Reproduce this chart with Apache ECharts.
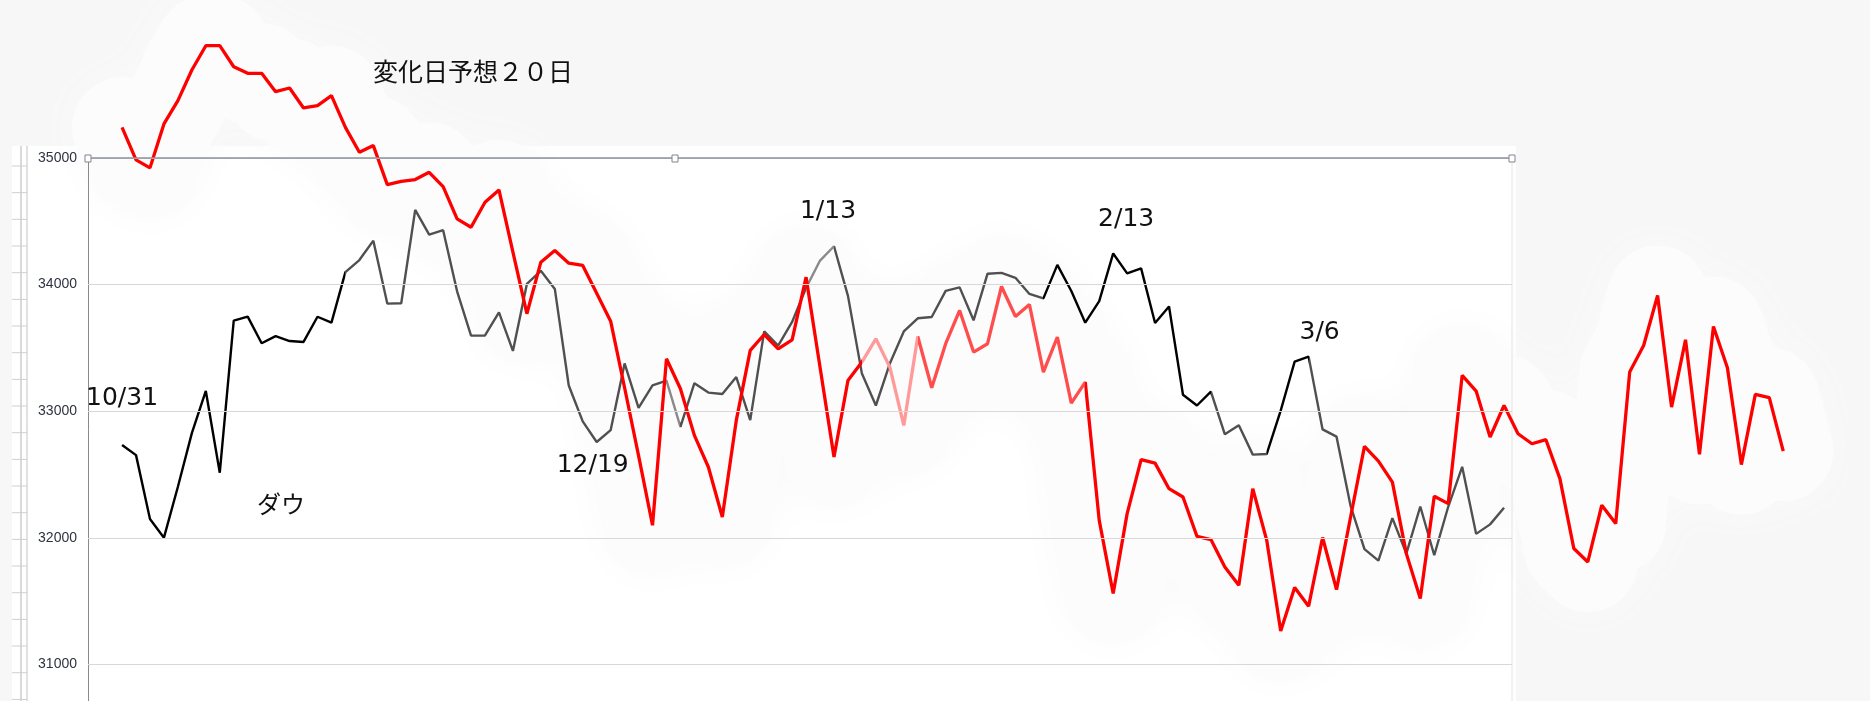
<!DOCTYPE html>
<html>
<head>
<meta charset="utf-8">
<title>ダウ 変化日予想</title>
<script src="https://cdn.jsdelivr.net/npm/echarts@6/dist/echarts.min.js"></script>
<style>
    html,body{margin:0;padding:0;background:#f7f7f7;}
    #chart{width:1870px;height:701px;}
</style>
</head>
<body>
<div id="chart"></div>
<script>
// 日付（ダウ100日 + 予想20日）
var dates = ['10/31',
    '11/1','11/2','11/3','11/4','11/7','11/8','11/9','11/10','11/11','11/14','11/15','11/16','11/17','11/18','11/21','11/22','11/23','11/25','11/28','11/29','11/30',
    '12/1','12/2','12/5','12/6','12/7','12/8','12/9','12/12','12/13','12/14','12/15','12/16','12/19','12/20','12/21','12/22','12/23','12/27','12/28','12/29','12/30',
    '1/3','1/4','1/5','1/6','1/9','1/10','1/11','1/12','1/13','1/17','1/18','1/19','1/20','1/23','1/24','1/25','1/26','1/27','1/30','1/31',
    '2/1','2/2','2/3','2/6','2/7','2/8','2/9','2/10','2/13','2/14','2/15','2/16','2/17','2/21','2/22','2/23','2/24','2/27','2/28',
    '3/1','3/2','3/3','3/6','3/7','3/8','3/9','3/10','3/13','3/14','3/15','3/16','3/17','3/20','3/21','3/22','3/23','3/24',
    '3/27','3/28','3/29','3/30','3/31','4/3','4/4','4/5','4/6','4/10','4/11','4/12','4/13','4/14','4/17','4/18','4/19','4/20','4/21','4/24'];

// ダウ終値
var dowValues = [32733,
    32653,32148,32001,32403,32827,33160,32514,33715,33747,33537,33593,33554,33547,33746,33700,34098,34194,34347,33850,33853,34590,
    34395,34430,33947,33597,33598,33781,33476,34005,34109,33966,33203,32920,32757,32850,33377,33027,33204,33242,32876,33221,33147,
    33136,33270,32930,33631,33518,33705,33974,34190,34303,33911,33297,33045,33376,33630,33734,33744,33950,33978,33718,34086,
    34093,34054,33926,33891,34156,33949,33699,33869,34246,34089,34128,33697,33827,33130,33045,33154,32817,32889,32657,
    32662,33004,33391,33431,32856,32799,32255,31910,31820,32155,31875,32247,31862,32245,32561,32031,32106,32238];

// 変化日予想２０日（赤線）
var forecastValues = [35242,34985,34922,35269,35453,35695,35887,35887,35721,35669,
    35669,35524,35553,35395,35414,35493,35242,35045,35098,34790,
    34816,34830,34887,34774,34519,34453,34650,34748,34257,33770,
    34177,34269,34169,34151,33932,33711,33185,32649,32099,33414,
    33177,32809,32559,32164,32927,33480,33606,33493,33564,34059,
    33348,32638,33243,33388,33572,33348,32888,33590,33185,33533,
    33796,33467,33533,33985,33748,33843,33309,33585,33064,33230,
    32138,31560,32191,32617,32590,32388,32322,32012,31986,31770,
    31625,32388,31980,31264,31607,31459,32002,31591,32160,32722,
    32606,32440,31875,31520,32328,32270,33283,33159,32796,33046,
    32822,32743,32775,32467,31915,31809,32257,32112,33309,33519,
    33914,33032,33564,32659,33669,33343,32578,33133,33107,32685];

// 目盛り
var yTicks = [31000,32000,33000,34000,35000];
var yMin = 30000, yMax = 35000, yStep = 1000;
var xMin = -2.44, xMax = 120, plotEnd = 99.57;   // 白いグラフ枠の右端（日数単位）
var markDates = ['10/31','12/19','1/13','2/13','3/6'];

// 注記の位置ずれ（点からのオフセット）
var markOffset = {'10/31':[0,-47],'12/19':[-4,24],'1/13':[-6,-35],'2/13':[13,-34],'3/6':[11,-24]};

function toPairs(arr){
    return arr.map(function(v,i){return [i,v];});
}

var markData = markDates.map(function(d){
    var i = dates.indexOf(d);
    return {
        coord:[i,dowValues[i]],
        value:d,
        label:{offset:markOffset[d]}
    };
});

var gridLines = yTicks.map(function(v){
    return [{coord:[xMin,v]},{coord:[plotEnd,v]}];
});

// 左の罫線
var ruler = [
    {type:'line',z:1,shape:{x1:21,y1:146,x2:21,y2:701},style:{stroke:'#b4b4b4',lineWidth:1}},
    {type:'line',z:1,shape:{x1:27,y1:146,x2:27,y2:701},style:{stroke:'#c4c4c4',lineWidth:1}}
];
for(var ry=166;ry<701;ry+=26.67){
    ruler.push({type:'line',z:1,shape:{x1:12,y1:ry,x2:27,y2:ry},style:{stroke:'#cfcfcf',lineWidth:1}});
}

var handles = [88,675,1512].map(function(hx){
    return {type:'rect',z:101,shape:{x:hx-3,y:155,width:6,height:7},style:{fill:'#fff',stroke:'#80858f',lineWidth:1}};
});

var myChart = echarts.init(document.getElementById('chart'));
var option = {
    backgroundColor:'#f7f7f7',
    animation:false,
    grid:{
        left:88,
        top:158,
        width:1709.2,
        height:633,
        outerBoundsMode:'none',
        containLabel:false
    },
    xAxis:{
        type:'value',
        min:xMin,
        max:xMax,
        show:false
    },
    yAxis:{
        type:'value',
        min:yMin,
        max:yMax,
        interval:yStep,
        axisLine:{show:true,onZero:false,lineStyle:{color:'#8a8a8a',width:1}},
        axisTick:{show:false},
        axisLabel:{
            color:'#2f3340',
            fontSize:14,
            fontFamily:'Liberation Sans',
            margin:11,
            formatter:function(v){return String(v);}
        },
        splitLine:{show:false}
    },
    visualMap:[
        {
            type:'piecewise',
            show:false,
            seriesIndex:2,
            dimension:0,
            pieces:[
                {lte:16,color:'#000'},
                {gt:16,lt:39,color:'#505050'},
                {gte:39,lte:40,color:'#8a8a8a'},
                {gt:40,lt:49,color:'#505050'},
                {gte:49,lte:51,color:'#8a8a8a'},
                {gt:51,lte:66,color:'#505050'},
                {gt:66,lte:78,color:'#000'},
                {gt:78,lte:82,color:'#505050'},
                {gt:82,lte:85,color:'#000'},
                {gt:85,color:'#505050'}
            ]
        },
        {
            type:'piecewise',
            show:false,
            seriesIndex:3,
            dimension:0,
            pieces:[
                {lte:53,color:'#ff0000'},
                {gt:53,lte:57,color:'#ff9a9a'},
                {gt:57,lte:69,color:'#ff4d4d'},
                {gt:69,color:'#ff0000'}
            ]
        }
    ],
    series:[
        {//赤線のまわりの白いにじみ
            name:'halo',
            type:'line',
            z:-50,
            silent:true,
            clip:false,
            symbol:'none',
            data:toPairs(forecastValues),
            lineStyle:{color:'#fcfcfc',width:100,cap:'round',join:'round',shadowBlur:40,shadowColor:'#fafafa'}
        },
        {//横の目盛り線
            name:'grid',
            type:'line',
            z:1,
            silent:true,
            data:[],
            markLine:{
                silent:true,
                symbol:'none',
                label:{show:false},
                lineStyle:{color:'#d8d8d8',width:1,type:'solid'},
                data:gridLines
            }
        },
        {
            name:'ダウ',
            type:'line',
            clip:false,
            symbol:'none',
            data:toPairs(dowValues),
            lineStyle:{width:2.4},
            markPoint:{
                symbol:'circle',
                symbolSize:1,
                itemStyle:{color:'rgba(0,0,0,0)'},
                label:{
                    show:true,
                    position:'inside',
                    formatter:'{c}',
                    color:'#111',
                    fontSize:25,
                    fontFamily:'DejaVu Sans'
                },
                data:markData
            }
        },
        {
            name:'変化日予想２０日',
            type:'line',
            z:3,
            clip:false,
            symbol:'none',
            data:toPairs(forecastValues),
            lineStyle:{width:3.3}
        }
    ],
    graphic:[
        {type:'rect',z:-100,silent:true,shape:{x:12,y:146,width:1504,height:555},style:{fill:'#fff'}},
        {type:'line',z:100,shape:{x1:88,y1:158,x2:1512,y2:158},style:{stroke:'#8d929c',lineWidth:1.5}},
        {type:'line',z:1,shape:{x1:1512,y1:158,x2:1512,y2:701},style:{stroke:'#e4e4e4',lineWidth:1}},
        {type:'text',z:100,x:373,y:71,style:{text:'変化日予想２０日',font:'25px "Noto Sans CJK JP"',fill:'#111',textVerticalAlign:'middle'}},
        {type:'text',z:100,x:257,y:504,style:{text:'ダウ',font:'24px "Noto Sans CJK JP"',fill:'#111',textVerticalAlign:'middle'}}
    ].concat(ruler).concat(handles)
};
myChart.setOption(option);
</script>
</body>
</html>
